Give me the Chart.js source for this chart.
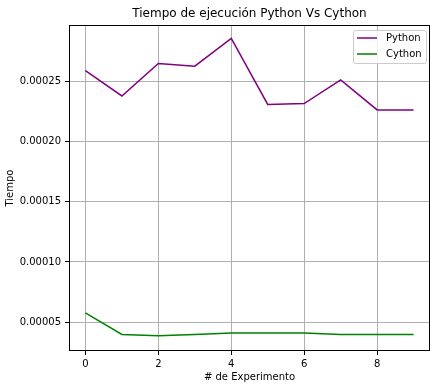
<!DOCTYPE html>
<html>
<head>
<meta charset="utf-8">
<script src="https://cdn.jsdelivr.net/npm/chart.js@4/dist/chart.umd.min.js"></script>
<style>
  html, body { margin: 0; padding: 0; background: #fff; }
  #wrap { width: 438px; height: 386px; }
</style>
</head>
<body>
<div id="wrap"><canvas id="grafica" width="438" height="386"></canvas></div>
<script>
// datos
const experimentos = [0, 1, 2, 3, 4, 5, 6, 7, 8, 9]
const tiempoPython = [0.0002590, 0.0002380, 0.0002650, 0.0002628, 0.0002858, 0.0002310, 0.0002317, 0.0002514, 0.0002264, 0.0002264]
const tiempoCython = [0.0000577, 0.0000398, 0.0000386, 0.0000398, 0.0000409, 0.0000409, 0.0000409, 0.0000398, 0.0000398, 0.0000398]
const ticksX = [0, 2, 4, 6, 8]
const ticksY = [0.00005, 0.00010, 0.00015, 0.00020, 0.00025]
const etiquetas = ['Python', 'Cython']
const colores = ['#800080', '#008000']

Chart.defaults.font.family = 'DejaVu Sans'
Chart.defaults.font.size = 10
Chart.defaults.color = '#000'

// marco negro alrededor del area de la grafica
const marco = {
    id: 'marco',
    afterDatasetsDraw(chart) {
        const a = chart.chartArea
        const ctx = chart.ctx
        ctx.save()
        ctx.strokeStyle = '#000'
        ctx.lineWidth = 1
        ctx.strokeRect(Math.round(a.left) + 0.5, Math.round(a.top) + 0.5,
            Math.round(a.right - a.left) - 1, Math.round(a.bottom - a.top) - 1)
        ctx.restore()
    }
}

// leyenda estilo matplotlib arriba a la derecha
const leyenda = {
    id: 'leyenda',
    afterDraw(chart) {
        const a = chart.chartArea
        const ctx = chart.ctx
        const x0 = a.right - 77, y0 = a.top + 5, w = 73, h = 33
        ctx.save()
        ctx.fillStyle = 'rgba(255,255,255,0.8)'
        ctx.strokeStyle = '#cccccc'
        ctx.lineWidth = 1
        ctx.beginPath()
        ctx.roundRect(x0 + 0.5, y0 + 0.5, w, h, 2)
        ctx.fill()
        ctx.stroke()
        ctx.font = '10px "DejaVu Sans"'
        ctx.textBaseline = 'middle'
        chart.data.datasets.forEach((ds, i) => {
            const y = y0 + 8 + i * 16
            ctx.strokeStyle = ds.borderColor
            ctx.lineWidth = 1.5
            ctx.beginPath()
            ctx.moveTo(x0 + 4, y)
            ctx.lineTo(x0 + 24, y)
            ctx.stroke()
            ctx.fillStyle = '#000'
            ctx.fillText(ds.label, x0 + 33, y)
        })
        ctx.restore()
    }
}

const series = [tiempoPython, tiempoCython].map((valores, k) => ({
    label: etiquetas[k],
    data: experimentos.map((x, i) => ({ x: x, y: valores[i] })),
    borderColor: colores[k],
    backgroundColor: colores[k],
    borderWidth: 1.5,
    pointRadius: 0,
    tension: 0
}))

new Chart(document.getElementById('grafica'), {
    type: 'line',
    data: { datasets: series },
    plugins: [marco, leyenda],
    options: {
        responsive: false,
        animation: false,
        layout: { padding: { left: 0, right: 8, top: 0, bottom: 0 } },
        plugins: {
            legend: { display: false },
            tooltip: { enabled: false },
            title: {
                display: true,
                text: 'Tiempo de ejecución Python Vs Cython',
                fullSize: false,
                font: { size: 12, weight: 'normal' },
                color: '#000',
                padding: { top: 7, bottom: 3.6 }
            }
        },
        scales: {
            x: {
                type: 'linear',
                min: -0.45,
                max: 9.45,
                afterBuildTicks(s) { s.ticks = ticksX.map(v => ({ value: v })) },
                afterFit(s) { s.height = 35 },
                ticks: { padding: 3, callback: v => String(v) },
                grid: { color: '#b0b0b0', lineWidth: 1, tickColor: '#000', tickLength: 4 },
                border: { display: false },
                title: { display: true, text: '# de Experimento', padding: { top: 0, bottom: 3 } }
            },
            y: {
                type: 'linear',
                min: 0.000026,
                max: 0.000297,
                afterBuildTicks(s) { s.ticks = ticksY.map(v => ({ value: v })) },
                afterFit(s) { s.width = 69 },
                ticks: { padding: 4, callback: v => v.toFixed(5) },
                grid: { color: '#b0b0b0', lineWidth: 1, tickColor: '#000', tickLength: 4 },
                border: { display: false },
                title: { display: true, text: 'Tiempo', padding: { top: 4, bottom: 0 } }
            }
        }
    }
})
</script>
</body>
</html>
